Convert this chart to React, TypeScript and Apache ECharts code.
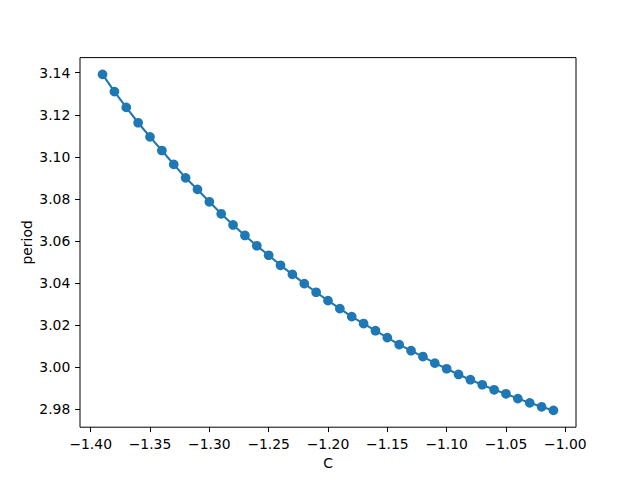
import React, { useEffect, useRef } from "react";
import * as echarts from "echarts";

const cValues = [
  -1.39, -1.38, -1.37, -1.36, -1.35, -1.34, -1.33, -1.32, -1.31, -1.3,
  -1.29, -1.28, -1.27, -1.26, -1.25, -1.24, -1.23, -1.22, -1.21, -1.2,
  -1.19, -1.18, -1.17, -1.16, -1.15, -1.14, -1.13, -1.12, -1.11, -1.1,
  -1.09, -1.08, -1.07, -1.06, -1.05, -1.04, -1.03, -1.02, -1.01,
];
const periodValues = [
  3.1392, 3.131, 3.1235, 3.1162, 3.1095, 3.103, 3.0964, 3.09, 3.0845, 3.0786,
  3.0729, 3.0676, 3.0626, 3.0577, 3.0532, 3.0484, 3.0441, 3.0397, 3.0356, 3.0316,
  3.0278, 3.024, 3.0207, 3.0173, 3.014, 3.0107, 3.0078, 3.005, 3.0019, 2.9992,
  2.9965, 2.994, 2.9916, 2.9892, 2.9873, 2.985, 2.983, 2.9811, 2.9794,
];
const xTicks = [-1.4, -1.35, -1.3, -1.25, -1.2, -1.15, -1.1, -1.05, -1.0];
const yTicks = [2.98, 3.0, 3.02, 3.04, 3.06, 3.08, 3.1, 3.12, 3.14];

const fmt = (v: number) => (v < 0 ? "\u2212" : "") + Math.abs(v).toFixed(2);

export default function App() {
  const ref = useRef<HTMLDivElement>(null);
  useEffect(() => {
    if (!ref.current) return;
    const chart = echarts.init(ref.current, null, { renderer: "svg" });
    const font = "DejaVu Sans";
    const fs = 13.9;
    const xmin = Math.min(...cValues), xmax = Math.max(...cValues);
    const ymin = Math.min(...periodValues), ymax = Math.max(...periodValues);
    const xm = (xmax - xmin) * 0.05, ym = (ymax - ymin) * 0.05;
    chart.setOption({
      animation: false,
      backgroundColor: "#ffffff",
      grid: {
        left: 80, right: 64, top: 57.6, bottom: 52.8,
        show: true, borderColor: "#000", borderWidth: 1, backgroundColor: "transparent",
      },
      xAxis: {
        type: "value",
        min: xmin - xm, max: xmax + xm,
        name: "C", nameLocation: "middle", nameGap: 26,
        nameTextStyle: { fontFamily: font, fontSize: fs, color: "#000" },
        axisLine: { show: false },
        splitLine: { show: false },
        axisTick: { show: true, length: 4.9, lineStyle: { color: "#000" }, customValues: xTicks },
        axisLabel: {
          customValues: xTicks, formatter: fmt, margin: 9.7,
          fontFamily: font, fontSize: fs, color: "#000",
        },
      },
      yAxis: {
        type: "value",
        min: ymin - ym, max: ymax + ym,
        name: "period", nameLocation: "middle", nameGap: 46, nameRotate: 90,
        nameMoveOverlap: false,
        nameTextStyle: { fontFamily: font, fontSize: fs, color: "#000" },
        axisLine: { show: false },
        splitLine: { show: false },
        axisTick: { show: true, length: 4.9, lineStyle: { color: "#000" }, customValues: yTicks },
        axisLabel: {
          customValues: yTicks, formatter: (v: number) => v.toFixed(2), margin: 9.7,
          fontFamily: font, fontSize: fs, color: "#000",
        },
      },
      series: [
        {
          type: "line",
          data: cValues.map((c, i) => [c, periodValues[i]]),
          symbol: "circle",
          symbolSize: 9.7,
          lineStyle: { color: "#1f77b4", width: 2.1 },
          itemStyle: { color: "#1f77b4" },
          clip: false,
        },
      ],
    });
    return () => chart.dispose();
  }, []);
  return (
    <div
      ref={ref}
      style={{ position: "fixed", left: 0, top: 0, width: 640, height: 480 }}
    />
  );
}
